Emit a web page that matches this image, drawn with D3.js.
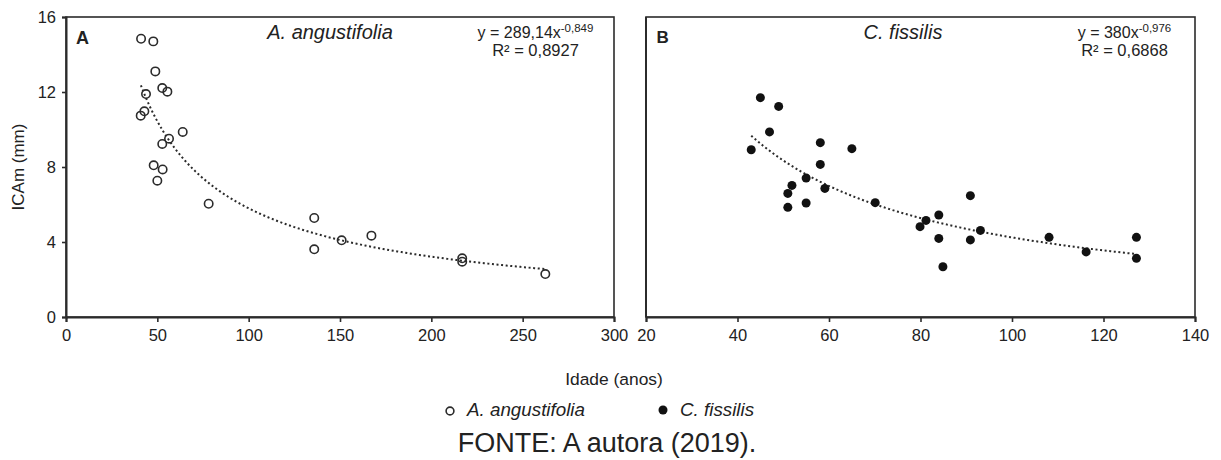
<!DOCTYPE html>
<html>
<head>
<meta charset="utf-8">
<script src="https://cdn.jsdelivr.net/npm/d3@7"></script>
<style>
  html, body { margin: 0; padding: 0; background: #fff; }
  svg { display: block; font-family: "Liberation Sans", Arial, sans-serif; }
</style>
</head>
<body>
<svg id="chart" width="1221" height="460"></svg>
<script>
// Araucaria angustifolia: idade (anos) x ICAm (mm)
const araucariaAge = [41.1, 47.8, 48.9, 52.7, 55.5, 43.8, 42.9, 40.9, 63.9, 56.4, 52.7, 48.0, 52.9, 50.0,
                      78.1, 135.9, 135.9, 150.9, 167.2, 216.9, 216.9, 262.4];
const araucariaICA = [14.84, 14.7, 13.1, 12.21, 12.02, 11.89, 10.97, 10.74, 9.87, 9.51, 9.23, 8.09, 7.87, 7.27,
                      6.04, 5.28, 3.61, 4.09, 4.34, 3.13, 2.95, 2.29];

// Cedrela fissilis: idade (anos) x ICAm (mm)
const cedroAge = [45.0, 49.0, 47.0, 43.0, 58.1, 65.0, 58.1, 55.0, 51.9, 51.0, 59.1, 51.0, 55.0, 70.1,
                  79.9, 81.2, 90.9, 84.0, 84.0, 84.9, 90.9, 93.1, 108.1, 116.2, 127.2, 127.2];
const cedroICA = [11.70, 11.23, 9.87, 8.92, 9.30, 8.98, 8.14, 7.41, 7.02, 6.59, 6.86, 5.85, 6.08, 6.10,
                  4.82, 5.15, 6.47, 5.44, 4.19, 2.68, 4.11, 4.62, 4.25, 3.47, 4.25, 3.13];

// Power-law fits y = a * x^b
const fitA = { a: 289.14, b: -0.849, from: 41, to: 262 };
const fitB = { a: 380, b: -0.976, from: 43, to: 127 };

const yTicks = [0, 4, 8, 12, 16];
const xTicksA = [0, 50, 100, 150, 200, 250, 300];
const xTicksB = [20, 40, 60, 80, 100, 120, 140];

const svg = d3.select("#chart");
const ink = "#2b2b2b";
const textInk = "#222";
const font = "'Liberation Sans', Arial, sans-serif";

const plotTop = 17, plotBottom = 317;
const y = d3.scaleLinear().domain([0, 16]).range([plotBottom, plotTop]);
const xA = d3.scaleLinear().domain([0, 300]).range([66, 614]);
const xB = d3.scaleLinear().domain([20, 140]).range([646, 1195]);

function panel(x, xTicks, showY) {
  const g = svg.append("g");
  // frame
  g.append("rect")
    .attr("x", x.range()[0]).attr("y", plotTop)
    .attr("width", x.range()[1] - x.range()[0]).attr("height", plotBottom - plotTop)
    .attr("fill", "none").attr("stroke", ink).attr("stroke-width", 1.6);

  const xAxis = g.append("g").attr("transform", `translate(0,${plotBottom})`)
    .call(d3.axisBottom(x).tickValues(xTicks).tickSize(5).tickPadding(7).tickFormat(d3.format("d")));
  xAxis.select(".domain").attr("stroke", ink).attr("stroke-width", 2);
  xAxis.selectAll(".tick line").attr("stroke", ink).attr("stroke-width", 1.6);
  xAxis.selectAll("text").attr("fill", textInk).style("font-size", "16.5px").style("font-family", font);

  if (showY) {
    const yAxis = g.append("g").attr("transform", `translate(${x.range()[0]},0)`)
      .call(d3.axisLeft(y).tickValues(yTicks).tickSize(4).tickPadding(6));
    yAxis.select(".domain").attr("stroke", ink).attr("stroke-width", 2);
    yAxis.selectAll(".tick line").attr("stroke", ink).attr("stroke-width", 1.6);
    yAxis.selectAll("text").attr("fill", textInk).style("font-size", "16.5px").style("font-family", font);
  } else {
    g.append("line")
      .attr("x1", x.range()[0]).attr("x2", x.range()[0])
      .attr("y1", plotTop).attr("y2", plotBottom)
      .attr("stroke", ink).attr("stroke-width", 2);
  }
  return g;
}

function trend(g, x, fit) {
  const pts = d3.range(0, 201).map(i => {
    const xv = fit.from + (fit.to - fit.from) * i / 200;
    return [xv, fit.a * Math.pow(xv, fit.b)];
  });
  g.append("path")
    .attr("d", d3.line().x(d => x(d[0])).y(d => y(d[1]))(pts))
    .attr("fill", "none").attr("stroke", ink).attr("stroke-width", 2)
    .attr("stroke-dasharray", "2,2.6");
}

function equation(g, cx, coef, expo, r2) {
  const t = g.append("text").attr("x", cx).attr("y", 38)
    .attr("text-anchor", "middle").attr("fill", textInk).style("font-size", "16px");
  t.append("tspan").text(`y = ${coef}x`);
  t.append("tspan").attr("dy", -6).style("font-size", "11.5px").text(expo);
  g.append("text").attr("x", cx).attr("y", 56)
    .attr("text-anchor", "middle").attr("fill", textInk).style("font-size", "16.5px")
    .text(`R² = ${r2}`);
}

// Panel A
const gA = panel(xA, xTicksA, true);
trend(gA, xA, fitA);
gA.selectAll("circle.pt").data(d3.zip(araucariaAge, araucariaICA)).join("circle")
  .attr("class", "pt")
  .attr("cx", d => xA(d[0])).attr("cy", d => y(d[1])).attr("r", 4.2)
  .attr("fill", "none").attr("stroke", ink).attr("stroke-width", 1.6);
gA.append("text").attr("x", 76).attr("y", 43.5).attr("fill", textInk)
  .style("font-size", "18px").style("font-weight", "bold").text("A");
gA.append("text").attr("x", 330).attr("y", 38.5).attr("text-anchor", "middle").attr("fill", textInk)
  .style("font-size", "20px").style("font-style", "italic").text("A. angustifolia");
equation(gA, 535.5, "289,14", "-0,849", "0,8927");

// Panel B
const gB = panel(xB, xTicksB, false);
trend(gB, xB, fitB);
gB.selectAll("circle.pt").data(d3.zip(cedroAge, cedroICA)).join("circle")
  .attr("class", "pt")
  .attr("cx", d => xB(d[0])).attr("cy", d => y(d[1])).attr("r", 4.5)
  .attr("fill", "#111");
gB.append("text").attr("x", 656.5).attr("y", 43).attr("fill", textInk)
  .style("font-size", "17px").style("font-weight", "bold").text("B");
gB.append("text").attr("x", 903).attr("y", 38.5).attr("text-anchor", "middle").attr("fill", textInk)
  .style("font-size", "20px").style("font-style", "italic").text("C. fissilis");
equation(gB, 1124.5, "380", "-0,976", "0,6868");

// Axis titles
svg.append("text").attr("transform", "translate(23.5,167) rotate(-90)")
  .attr("text-anchor", "middle").attr("fill", textInk).style("font-size", "17px").text("ICAm (mm)");
svg.append("text").attr("x", 614).attr("y", 385)
  .attr("text-anchor", "middle").attr("fill", textInk).style("font-size", "17.4px").text("Idade (anos)");

// Legend
const leg = svg.append("g");
leg.append("circle").attr("cx", 450).attr("cy", 411).attr("r", 3.9)
  .attr("fill", "none").attr("stroke", ink).attr("stroke-width", 1.6);
leg.append("text").attr("x", 467).attr("y", 416).attr("fill", textInk)
  .style("font-size", "18.8px").style("font-style", "italic").text("A. angustifolia");
leg.append("circle").attr("cx", 663).attr("cy", 410).attr("r", 4.5).attr("fill", "#111");
leg.append("text").attr("x", 680).attr("y", 416).attr("fill", textInk)
  .style("font-size", "18.8px").style("font-style", "italic").text("C. fissilis");

// Source note
svg.append("text").attr("x", 607).attr("y", 451.5).attr("text-anchor", "middle").attr("fill", textInk)
  .style("font-size", "27px").text("FONTE: A autora (2019).");
</script>
</body>
</html>
